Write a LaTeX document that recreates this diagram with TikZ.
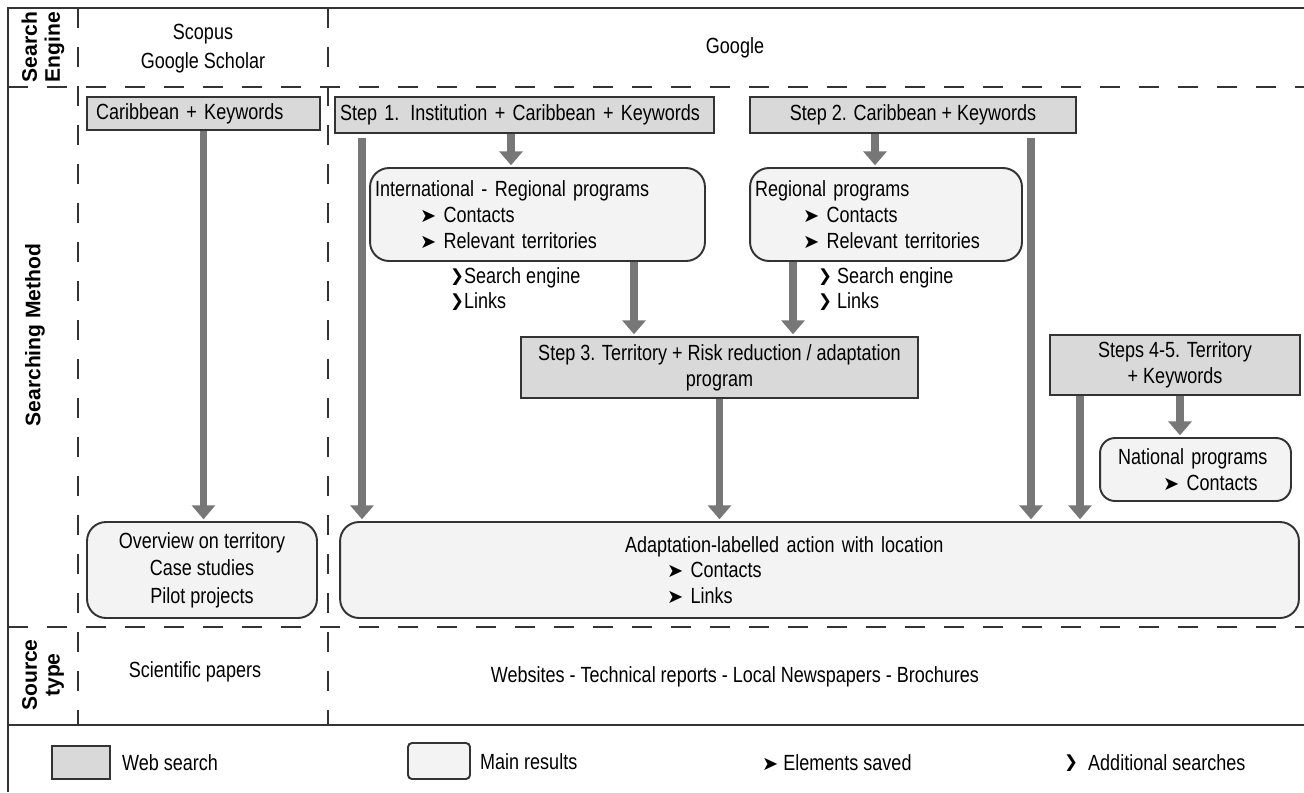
\documentclass[tikz,border=0pt]{standalone}
\usepackage{fontspec}
\setmainfont{Liberation Sans}[FakeStretch=0.82]
\newfontfamily\headfont{Liberation Sans}
\newfontfamily\symfont{DejaVu Sans}
\usetikzlibrary{arrows.meta, positioning}
\definecolor{linegray}{HTML}{333333}
\definecolor{arrowgray}{HTML}{777777}
\definecolor{webgray}{HTML}{D9D9D9}
\definecolor{resgray}{HTML}{F3F3F3}
\newcommand\savedmark{{\symfont\fontsize{11}{11}\selectfont ➤}}
\newcommand\addmark{\raisebox{1.2pt}{\symfont\fontsize{9.5}{9.5}\selectfont ❯}}
\tikzstyle{arrow} = [line width=0.15cm, draw=arrowgray, -{Triangle[width=0.46cm,length=0.28cm]}, shorten >=1pt]
\tikzstyle{websearch} = [rectangle, draw=linegray, line width=1.1pt, fill=webgray, inner xsep=0.1cm, align=center]
\tikzstyle{mainres} = [rectangle, rounded corners=0.38cm, draw=linegray, line width=1.1pt, fill=resgray, inner xsep=0.1cm]
\tikzstyle{sep} = [draw=linegray, line width=0.9pt, dash pattern=on 0.4cm off 0.38cm]
\tikzstyle{rowhead} = [font=\headfont\bfseries\fontsize{12}{13}\selectfont, rotate=90, align=center]

\begin{document}
\begin{tikzpicture}[x=0.02cm, y=-0.02cm, font=\fontsize{12.5}{14.6}\selectfont]
\useasboundingbox (0,0) rectangle (1304,792);

% Frame and table lines
\draw[linegray, line width=1.3pt] (8,792) -- (8,8) -- (1304,8);
\draw[linegray, line width=1.1pt] (8,725) -- (1304,725);
\draw[sep] (8,87) -- (1304,87);
\draw[sep] (8,627) -- (1304,627);
\draw[sep] (78,8) -- (78,725);
\draw[sep] (328,8) -- (328,725);

% Row and column headers
\node (hEngine) [rowhead] at (43,47) {Search\\Engine};
\node (hMethod) [rowhead] at (35,335) {Searching Method};
\node (hSource) [rowhead] at (43,675) {Source\\type};
\node (scopus) [align=center] at (203,49) {Scopus\\[2pt]Google Scholar};
\node (google) at (735,48) {Google};
\node (papers) at (195,672) {Scientific papers};
\node (websites) at (735,677) {Websites - Technical reports - Local Newspapers - Brochures};

% Placement of nodes
\node (carib) [websearch, minimum height=0.66cm, text width=4.46cm, align=left] at (203.5,113.5) {\hspace*{0.08cm}Caribbean + Keywords};
\node (step1) [websearch, minimum height=0.72cm, text width=7.38cm, align=left] at (524.5,115) {Step 1. Institution + Caribbean + Keywords};
\node (step2) [websearch, minimum width=6.52cm, minimum height=0.72cm] at (913,115) {Step 2. Caribbean + Keywords};
\node (intl) [mainres, minimum height=1.86cm, text width=6.5cm, align=left] at (537.5,214.5)
  {International - Regional programs\\\hspace*{0.9cm}\savedmark\ Contacts\\\hspace*{0.9cm}\savedmark\ Relevant territories};
\node (regional) [mainres, minimum height=1.86cm, text width=5.24cm, align=left] at (886,214.5)
  {Regional programs\\\hspace*{0.96cm}\savedmark\ Contacts\\\hspace*{0.96cm}\savedmark\ Relevant territories};
\node (moreI) [anchor=west, align=left] at (444,289) {\addmark Search engine\\\addmark Links};
\node (moreII) [anchor=west, align=left] at (812,289) {\addmark\ Search engine\\\addmark\ Links};
\node (step3) [websearch, minimum width=7.94cm, minimum height=1.22cm] at (719.5,367.5)
  {Step 3. Territory + Risk reduction / adaptation\\program};
\node (step45) [websearch, minimum width=5cm, minimum height=1.2cm] at (1175,365) {Steps 4-5. Territory\\+ Keywords};
\node (national) [mainres, rounded corners=0.3cm, minimum height=1.26cm, text width=3.62cm, align=left] at (1195.5,469.5)
  {\hspace*{0.26cm}National programs\\\hspace*{1.16cm}\savedmark\ Contacts};
\node (overview) [mainres, minimum width=4.6cm, minimum height=1.92cm, align=center] at (202,570)
  {Overview on territory\\[1pt]Case studies\\[1pt]Pilot projects};
\node (action) [mainres, minimum height=1.92cm, text width=18.98cm, align=left] at (819.5,570)
  {\hspace*{5.6cm}Adaptation-labelled action with location\\\hspace*{6.44cm}\savedmark\ Contacts\\\hspace*{6.44cm}\savedmark\ Links};

% Legend
\node (legWeb) [websearch, minimum width=1.16cm, minimum height=0.66cm] at (81,762.5) {};
\node (legWebTxt) [anchor=west] at (116,763) {Web search};
\node (legRes) [mainres, rounded corners=0.08cm, minimum width=1.24cm, minimum height=0.72cm] at (439,761) {};
\node (legResTxt) [anchor=west] at (474,762) {Main results};
\node (legSaved) [anchor=west] at (756,763) {\savedmark\ Elements saved};
\node (legMore) [anchor=west] at (1058,763) {\addmark\ \ Additional searches};

% Placement of edges
\coordinate (xStepI) at (362,0);
\coordinate (xIntl) at (511,0);
\coordinate (xIntlOut) at (634,0);
\coordinate (xReg) at (875,0);
\coordinate (xRegOut) at (793,0);
\coordinate (xStepII) at (1031,0);
\coordinate (xStepIV) at (1080,0);
\coordinate (xNat) at (1180,0);

\draw [arrow] (carib.south) -- (carib.south |- overview.north);
\draw [arrow] ([yshift=-0.08cm]step1.south -| xStepI) -- (action.north -| xStepI);
\draw [arrow] (step1.south -| xIntl) -- (intl.north -| xIntl);
\draw [arrow] (intl.south -| xIntlOut) -- (step3.north -| xIntlOut);
\draw [arrow] (step2.south -| xReg) -- (regional.north -| xReg);
\draw [arrow] (regional.south -| xRegOut) -- (step3.north -| xRegOut);
\draw [arrow] ([yshift=-0.08cm]step2.south -| xStepII) -- (action.north -| xStepII);
\draw [arrow] (step3.south) -- (step3.south |- action.north);
\draw [arrow] (step45.south -| xStepIV) -- (action.north -| xStepIV);
\draw [arrow] (step45.south -| xNat) -- (national.north -| xNat);

\end{tikzpicture}
\end{document}
